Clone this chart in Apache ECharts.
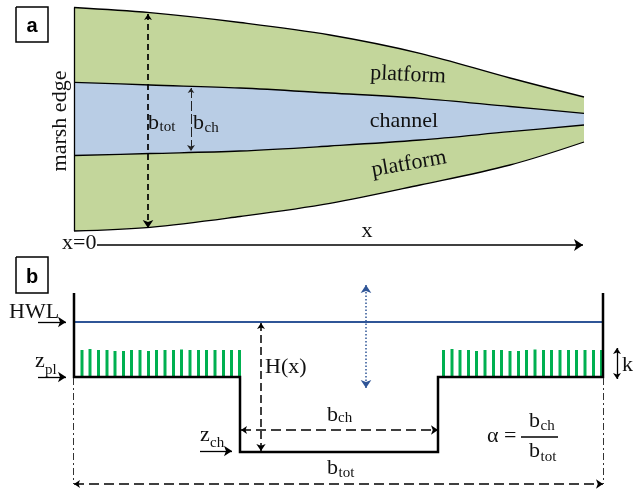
<!DOCTYPE html>
<html><head><meta charset="utf-8">
<script src="https://cdn.jsdelivr.net/npm/echarts@6.0.0/dist/echarts.min.js"></script>
<style>html,body{margin:0;padding:0;background:#fff}#c{width:639px;height:489px}</style>
</head><body><div id="c"></div><script>
// ---- Panel a: planform boundaries, [x, y] in diagram units
const topOuter      = [[74,7.5],[150,12.7],[240,22.5],[330,35],[420,53.3],[510,78],[584,97]];
const channelTop    = [[74,82.3],[150,85],[240,88],[330,93],[420,98.3],[510,106.5],[584,113.3]];
const channelBottom = [[74,155.5],[150,153.5],[240,151],[330,146],[420,140],[510,131.7],[584,125]];
const bottomOuter   = [[74,231],[150,227.3],[240,216.5],[330,203.3],[420,185],[510,165],[584,142]];

// ---- Panel b: cross-section
const profile = [[74,293],[74,377],[240,377],[240,452],[438,452],[438,377],[603,377],[603,293]];
const hwlLine = [[74,322],[603,322]];
const platformLevel = 377;
const vegLeftX   = [82,90,98.5,107,115,123.5,131.5,140,148.5,156.5,165,173.5,181.5,190,198.5,206.5,215,223.5,231.5,239.5];
const vegLeftTop = [350,349,350,350,351,351,350,350,351,350,350,350,349.5,350,350,350,350,350,350,350];
const vegRightX   = [443.5,452,460,468.5,476.5,485,493.5,501.5,510,518.5,526.5,535,543.5,551.5,560,568.5,576.5,585,593.5,601.5];
const vegRightTop = [350,349,350,350,351,350,350,350,351,351,350,349.5,350,350,350,350,350,350,350,350];

// ---- Text labels: [x, yMiddle, text, fontSize, align, rotationDeg]
const serifLabels = [
  [60,121,'marsh edge',22,'center',90],
  [408,75,'platform',22,'center',-2.5],
  [404,121,'channel',22,'center',0],
  [409,164,'platform',22,'center',10],
  [148,123,'b',22,'left',0],[159.5,127,'tot',15,'left',0],
  [193,123,'b',22,'left',0],[204.5,128,'ch',15,'left',0],
  [62,243,'x=0',22,'left',0],
  [367,231,'x',22,'center',0],
  [9,312,'HWL',22,'left',0],
  [35,361,'z',22,'left',0],[45,370,'pl',15,'left',0],
  [265,367,'H(x)',22,'left',0],
  [200,435,'z',22,'left',0],[210,443,'ch',15,'left',0],
  [327,415,'b',22,'left',0],[338,418,'ch',15,'left',0],
  [327,468,'b',22,'left',0],[338.5,473,'tot',15,'left',0],
  [487,436,'\u03b1 =',22,'left',0],
  [529,421,'b',22,'left',0],[540.5,426,'ch',15,'left',0],
  [529,451,'b',22,'left',0],[540.5,457,'tot',15,'left',0],
  [622,365,'k',22,'left',0]
];
const panelLetters = [[32,26.5,'a'],[32,277,'b']];

const GREEN = '#c3d69b', BLUE = '#b9cde5', VEG = '#00b050', WATER = '#2f5597';

function fill(data, color) {
  return {type:'line', data, smooth:0.35, symbol:'none', silent:true,
    lineStyle:{width:0, opacity:0}, areaStyle:{color, opacity:1, origin:'start'}, z:1};
}
function curve(data) {
  return {type:'line', data, smooth:0.35, symbol:'none', silent:true,
    lineStyle:{width:1.3, color:'#000'}, z:3};
}
function seg(list, style, symbols, size, polyline) {
  return {type:'lines', coordinateSystem:'cartesian2d', polyline:!!polyline, silent:true, z:4,
    symbol: symbols || ['none','none'], symbolSize: size || 7,
    lineStyle: Object.assign({opacity:1, curveness:0}, style),
    itemStyle: {color: style.color},
    data: list.map(c => ({coords:c}))};
}
function veg(xs, tops) {
  return {type:'custom', silent:true, z:2,
    data: xs.map((x,i)=>[x,tops[i]]), encode:{x:0,y:1},
    renderItem:(params, api) => {
      const t = api.coord([api.value(0), api.value(1)]);
      const b = api.coord([api.value(0), platformLevel]);
      return {type:'rect', shape:{x:t[0]-1.5, y:t[1], width:3, height:b[1]-t[1]}, style:{fill:VEG}};
    }};
}

const K = '#000';
const option = {
  animation:false,
  grid:{left:0,right:0,top:0,bottom:0},
  xAxis:{type:'value', min:0, max:639, show:false},
  yAxis:{type:'value', min:0, max:489, inverse:true, show:false},
  series:[
    fill(bottomOuter, GREEN), fill(channelBottom, BLUE), fill(channelTop, GREEN), fill(topOuter, '#ffffff'),
    curve(topOuter), curve(channelTop), curve(channelBottom), curve(bottomOuter),
    seg([[[74,7.5],[74,231]]], {color:K, width:1.3}),
    // panel boxes
    seg([[[16,7],[48,7],[48,42],[16,42],[16,7]], [[16,257],[48,257],[48,293],[16,293],[16,257]]], {color:K, width:1.5}, null, 7, true),
    // panel a arrows
    seg([[[148,14],[148,228]]], {color:K, width:1.7, type:[6,4]}, ['arrow','arrow'], [6,8]),
    seg([[[191,88],[191,151]]], {color:'#222', width:1, type:[10,3]}, ['arrow','arrow'], [5,6]),
    seg([[[97,245],[583,245]]], {color:K, width:1.5}, ['none','arrow'], [7,9]),
    // panel b
    veg(vegLeftX, vegLeftTop), veg(vegRightX, vegRightTop),
    seg([hwlLine], {color:WATER, width:2}),
    seg([profile], {color:K, width:2.5}, null, 7, true),
    seg([[[73.5,378],[73.5,484]], [[603,378],[603,484]]], {color:'#333', width:1, type:[7,3,2,3]}),
    seg([[[38,322],[66,322]], [[38,377],[66,377]], [[200,451],[232,451]]], {color:K, width:1.3}, ['none','arrow'], [6,8]),
    seg([[[261,323],[261,451]]], {color:K, width:1.5, type:[8,4]}, ['arrow','arrow'], [6,7]),
    seg([[[241,430],[438,430]], [[74,484],[603,484]]], {color:K, width:1.5, type:[10,5]}, ['arrow','arrow'], [6,7]),
    seg([[[366,285],[366,388]]], {color:WATER, width:1.5, type:[1.5,2]}, ['arrow','arrow'], [8,8]),
    seg([[[617,348],[617,379]]], {color:K, width:1.3}, ['arrow','arrow'], [6,6]),
    seg([[[521,437],[558,437]]], {color:K, width:1.5}),
    // texts
    {type:'custom', silent:true, z:5, data: serifLabels.map(d=>[d[0],d[1]]), encode:{x:0,y:1},
      renderItem:(params, api) => {
        const d = serifLabels[params.dataIndex];
        const p = api.coord([d[0], d[1]]);
        return {type:'text', x:p[0], y:p[1], rotation:d[5]*Math.PI/180,
          style:{text:d[2], font: d[3]+'px "Liberation Serif"', fill:'#111', align:d[4], verticalAlign:'middle'}};
      }},
    {type:'custom', silent:true, z:5, data: panelLetters.map(d=>[d[0],d[1]]), encode:{x:0,y:1},
      renderItem:(params, api) => {
        const d = panelLetters[params.dataIndex];
        const p = api.coord([d[0], d[1]]);
        return {type:'text', x:p[0], y:p[1],
          style:{text:d[2], font:'bold 20px "Liberation Sans"', fill:'#000', align:'center', verticalAlign:'middle'}};
      }}
  ]
};
const chart = echarts.init(document.getElementById('c'), null, {renderer:'canvas', width:639, height:489});
chart.setOption(option);
</script></body></html>
